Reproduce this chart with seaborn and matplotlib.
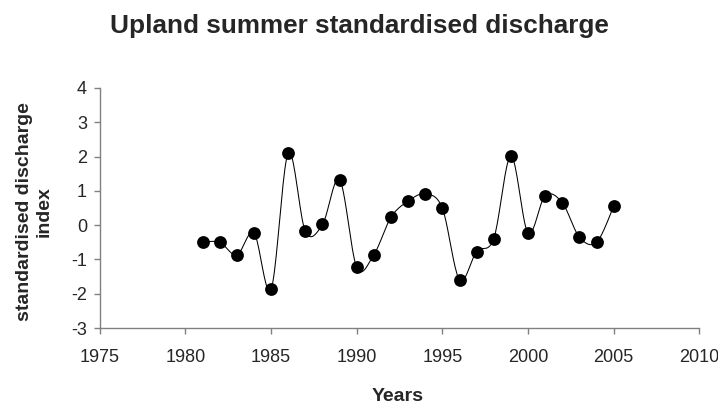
import numpy as np
import pandas as pd
import matplotlib
matplotlib.use("Agg")
import matplotlib.pyplot as plt
import seaborn as sns

years = [1981, 1982, 1983, 1984, 1985, 1986, 1987, 1988, 1989, 1990, 1991, 1992, 1993,
         1994, 1995, 1996, 1997, 1998, 1999, 2000, 2001, 2002, 2003, 2004, 2005]
values = [-0.50, -0.50, -0.87, -0.23, -1.86, 2.10, -0.18, 0.02, 1.32, -1.23, -0.86, 0.23, 0.70,
          0.91, 0.49, -1.59, -0.77, -0.39, 2.01, -0.23, 0.86, 0.65, -0.35, -0.50, 0.55]
x_ticks = [1975, 1980, 1985, 1990, 1995, 2000, 2005, 2010]
y_ticks = [-3, -2, -1, 0, 1, 2, 3, 4]

sns.set_style("white")
plt.rcParams['font.family'] = ['Liberation Sans', 'DejaVu Sans']
plt.rcParams['axes.unicode_minus'] = False

def smooth(x, y, n=20):
    # Catmull-Rom style smoothing, like a spreadsheet "smoothed line"
    x = np.asarray(x, float); y = np.asarray(y, float)
    px = np.concatenate([[x[0]], x, [x[-1]]])
    py = np.concatenate([[y[0]], y, [y[-1]]])
    xs, ys = [], []
    t = np.linspace(0, 1, n, endpoint=False)
    for i in range(1, len(px) - 2):
        p0, p1, p2, p3 = (np.array([px[j], py[j]]) for j in (i - 1, i, i + 1, i + 2))
        c1 = p1 + (p2 - p0) / 6
        c2 = p2 - (p3 - p1) / 6
        for tt in t:
            b = ((1 - tt) ** 3) * p1 + 3 * ((1 - tt) ** 2) * tt * c1 + 3 * (1 - tt) * tt ** 2 * c2 + tt ** 3 * p2
            xs.append(b[0]); ys.append(b[1])
    xs.append(x[-1]); ys.append(y[-1])
    return np.array(xs), np.array(ys)

sx, sy = smooth(years, values)
curve = pd.DataFrame({"x": sx, "y": sy})
pts = pd.DataFrame({"Years": years, "value": values})

fig = plt.figure(figsize=(7.18, 4.07), dpi=100)
ax = fig.add_axes([0.139, 0.194, 0.835, 0.590])

sns.lineplot(data=curve, x="x", y="y", ax=ax, color="black", linewidth=0.75, sort=False)
sns.scatterplot(data=pts, x="Years", y="value", ax=ax, color="black", s=85, linewidth=0, zorder=3)

ax.set_xlim(1975, 2010)
ax.set_ylim(-3, 4)
ax.set_xticks(x_ticks)
ax.set_yticks(y_ticks)
ax.tick_params(axis="both", direction="out", length=4.3, width=1, color="#808080",
               labelsize=13, bottom=True, left=True)
ax.tick_params(axis="x", pad=11)
ax.tick_params(axis="y", pad=5)
for s in ["top", "right"]:
    ax.spines[s].set_visible(False)
for s in ["left", "bottom"]:
    ax.spines[s].set_color("#808080")
    ax.spines[s].set_linewidth(1)

ax.set_xlabel("Years", fontsize=14, fontweight="bold")
ax.set_ylabel("standardised discharge\nindex", fontsize=14, fontweight="bold")
ax.xaxis.set_label_coords(0.497, -0.248)
ax.yaxis.set_label_coords(-0.079, 0.487)
fig.text(0.5, 1 - 33 / 407, "Upland summer standardised discharge", ha="center", va="baseline",
         fontsize=18.8, fontweight="bold")

fig.savefig("out.png", dpi=100)
